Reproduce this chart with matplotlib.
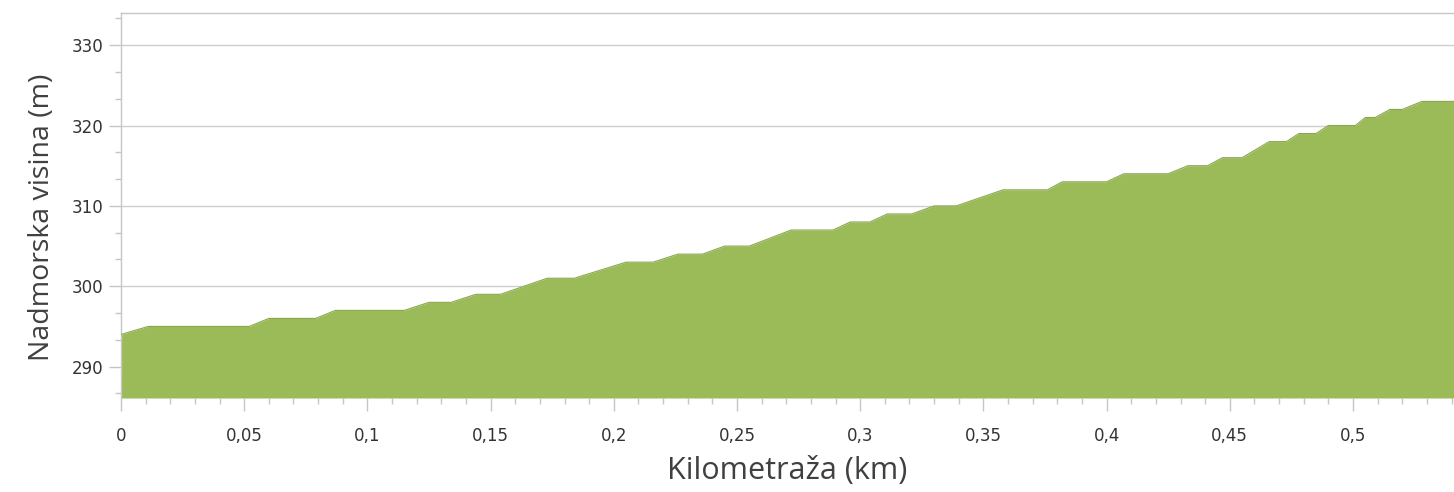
import matplotlib.pyplot as plt
from matplotlib.ticker import MultipleLocator, FuncFormatter

# elevation profile
km = [0, 0.011, 0.052, 0.060, 0.079, 0.087, 0.115, 0.125, 0.134, 0.144,
      0.154, 0.173, 0.184, 0.205, 0.216, 0.226, 0.236, 0.245, 0.255, 0.272,
      0.289, 0.296, 0.304, 0.311, 0.321, 0.330, 0.339, 0.358, 0.376, 0.382,
      0.400, 0.407, 0.425, 0.433, 0.441, 0.447, 0.455, 0.466, 0.473, 0.478,
      0.485, 0.490, 0.501, 0.505, 0.509, 0.515, 0.520, 0.528, 0.541]
elev = [294, 295, 295, 296, 296, 297, 297, 298, 298, 299,
        299, 301, 301, 303, 303, 304, 304, 305, 305, 307,
        307, 308, 308, 309, 309, 310, 310, 312, 312, 313,
        313, 314, 314, 315, 315, 316, 316, 318, 318, 319,
        319, 320, 320, 321, 321, 322, 322, 323, 323]

y_min, y_max = 286.1, 334
x_max = 0.541

fig = plt.figure(figsize=(14.54, 4.92), dpi=100)
ax = fig.add_axes([121 / 1454, 94 / 492, 1 - 121 / 1454, 385 / 492])

ax.fill_between(km, elev, y_min, color='#9bbb59', linewidth=0, zorder=2)
ax.plot(km, elev, color='#88a74c', linewidth=0.8, zorder=3)

ax.set_xlim(0, x_max)
ax.set_ylim(y_min, y_max)

ax.yaxis.set_major_locator(MultipleLocator(10))
ax.yaxis.set_minor_locator(MultipleLocator(10 / 3))
ax.xaxis.set_major_locator(MultipleLocator(0.05))
ax.xaxis.set_minor_locator(MultipleLocator(0.01))

def comma_fmt(v, pos):
    s = ('%.2f' % v).rstrip('0').rstrip('.')
    return s.replace('.', ',')

ax.xaxis.set_major_formatter(FuncFormatter(comma_fmt))
ax.yaxis.set_major_formatter(FuncFormatter(lambda v, p: '%d' % round(v)))

ax.grid(axis='y', which='major', color='#cfcfcf', linewidth=1, zorder=1)
ax.set_axisbelow(True)

for side in ['bottom', 'right']:
    ax.spines[side].set_visible(False)
for side in ['left', 'top']:
    ax.spines[side].set_color('#c6c6c6')
    ax.spines[side].set_linewidth(1)

ax.tick_params(axis='both', which='major', colors='#c6c6c6', labelcolor='#333333',
               labelsize=12, length=9, width=1)
ax.tick_params(axis='both', which='minor', colors='#c6c6c6', length=4, width=1)
ax.tick_params(axis='x', which='major', pad=12)
ax.tick_params(axis='y', which='major', pad=4)

ax.set_xlabel('Kilometraža (km)', fontsize=22, color='#404040', family='Open Sans', labelpad=8)
ax.set_ylabel('Nadmorska visina (m)', fontsize=20.5, color='#404040', family='Open Sans')
ax.yaxis.set_label_coords(-0.049, 0.47)

plt.savefig('out.png', dpi=100)
